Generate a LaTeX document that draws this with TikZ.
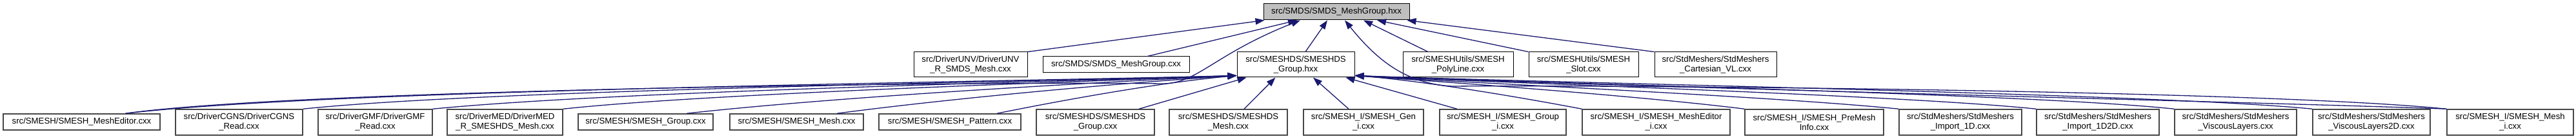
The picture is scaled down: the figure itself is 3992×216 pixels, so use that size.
\documentclass[tikz,border=0pt]{standalone}
\usepackage{fontspec}
\setmainfont{Liberation Sans}
\usetikzlibrary{arrows.meta}
\definecolor{edgeblue}{HTML}{191970}
\definecolor{topfill}{HTML}{BFBFBF}
\begin{document}
\begin{tikzpicture}[x=1pt,y=-1pt,
  box/.style={draw=black, line width=1pt, inner sep=0pt, align=center,
    font=\fontsize{13.2}{15}\selectfont, fill=white},
  lowbox/.style={box, draw=black!72, line width=1.4pt},
  dep/.style={draw=edgeblue, line width=1.3pt, -{Triangle[length=14pt,width=10pt]}},
]
\useasboundingbox (0,0) rectangle (3992,216);

% top
\node[box, fill=topfill, minimum width=226pt, minimum height=25pt] (T) at (2071,18.5) {src/SMDS/SMDS\_MeshGroup.hxx};

% row 2
\node[box, minimum width=176pt, minimum height=39pt] (UNV) at (1504,100.5) {src/DriverUNV/DriverUNV\\\_R\_SMDS\_Mesh.cxx};
\node[box, minimum width=227pt, minimum height=25pt] (MGc) at (1729.5,100.5) {src/SMDS/SMDS\_MeshGroup.cxx};
\node[box, minimum width=182pt, minimum height=39pt] (HDSG) at (2008,100.5) {src/SMESHDS/SMESHDS\\\_Group.hxx};
\node[box, minimum width=171pt, minimum height=39pt] (Poly) at (2259.5,100.5) {src/SMESHUtils/SMESH\\\_PolyLine.cxx};
\node[box, minimum width=170pt, minimum height=39pt] (Slot) at (2454,100.5) {src/SMESHUtils/SMESH\\\_Slot.cxx};
\node[box, minimum width=189pt, minimum height=39pt] (Cart) at (2658.5,100.5) {src/StdMeshers/StdMeshers\\\_Cartesian\_VL.cxx};

% row 3
\node[lowbox, minimum width=243pt, minimum height=25pt] (ME) at (126.5,189.5) {src/SMESH/SMESH\_MeshEditor.cxx};
\node[lowbox, minimum width=197pt, minimum height=40pt] (CGNS) at (370.5,190) {src/DriverCGNS/DriverCGNS\\\_Read.cxx};
\node[lowbox, minimum width=177pt, minimum height=40pt] (GMF) at (581.5,190) {src/DriverGMF/DriverGMF\\\_Read.cxx};
\node[lowbox, minimum width=179pt, minimum height=40pt] (MED) at (782.5,190) {src/DriverMED/DriverMED\\\_R\_SMESHDS\_Mesh.cxx};
\node[lowbox, minimum width=209pt, minimum height=25pt] (SG) at (1000.5,189.5) {src/SMESH/SMESH\_Group.cxx};
\node[lowbox, minimum width=207pt, minimum height=25pt] (SM) at (1234.5,189.5) {src/SMESH/SMESH\_Mesh.cxx};
\node[lowbox, minimum width=220pt, minimum height=25pt] (Pat) at (1472,189.5) {src/SMESH/SMESH\_Pattern.cxx};
\node[lowbox, minimum width=183pt, minimum height=40pt] (DSG) at (1697.5,190) {src/SMESHDS/SMESHDS\\\_Group.cxx};
\node[lowbox, minimum width=183pt, minimum height=40pt] (DSM) at (1903.5,190) {src/SMESHDS/SMESHDS\\\_Mesh.cxx};
\node[lowbox, minimum width=186pt, minimum height=40pt] (Gen) at (2113,190) {src/SMESH\_I/SMESH\_Gen\\\_i.cxx};
\node[lowbox, minimum width=196pt, minimum height=40pt] (Grp) at (2329,190) {src/SMESH\_I/SMESH\_Group\\\_i.cxx};
\node[lowbox, minimum width=229pt, minimum height=40pt] (MEi) at (2566.5,190) {src/SMESH\_I/SMESH\_MeshEditor\\\_i.cxx};
\node[lowbox, minimum width=215pt, minimum height=40pt] (Pre) at (2811.5,190) {src/SMESH\_I/SMESH\_PreMesh\\Info.cxx};
\node[lowbox, minimum width=190pt, minimum height=40pt] (I1) at (3038,190) {src/StdMeshers/StdMeshers\\\_Import\_1D.cxx};
\node[lowbox, minimum width=190pt, minimum height=40pt] (I12) at (3251,190) {src/StdMeshers/StdMeshers\\\_Import\_1D2D.cxx};
\node[lowbox, minimum width=189pt, minimum height=40pt] (VL) at (3464.5,190) {src/StdMeshers/StdMeshers\\\_ViscousLayers.cxx};
\node[lowbox, minimum width=182pt, minimum height=40pt] (VL2) at (3675,190) {src/StdMeshers/StdMeshers\\\_ViscousLayers2D.cxx};
\node[lowbox, minimum width=196pt, minimum height=40pt] (Mi) at (3890,190) {src/SMESH\_I/SMESH\_Mesh\\\_i.cxx};

% edges into top node
\draw[dep] (UNV.north east) -- ([xshift=2pt]T.south west);
\draw[dep] ([xshift=48.5pt]MGc.north) -- ([xshift=-61pt]T.south);
\draw[dep] ([xshift=15pt]HDSG.north) -- ([xshift=-14pt]T.south);
\draw[dep] ([xshift=-46.5pt]Poly.north) -- ([xshift=42pt]T.south);
\draw[dep] (Slot.north west) -- ([xshift=63pt]T.south);
\draw[dep] (Cart.north west) -- ([xshift=-4pt]T.south east);
\draw[dep] ([xshift=68pt]ME.north) .. controls (450,140) and (1500,126) .. (1800,130)
  .. controls (1855,131) and (1880,85) .. ([xshift=-56pt]T.south);
\draw[dep] (Mi.north west) .. controls (3500,140) and (2500,132) .. (2250,134)
  .. controls (2180,130) and (2135,95) .. ([xshift=13pt]T.south);

% edges into SMESHDS_Group.hxx from the left
\draw[dep] ([xshift=68pt]ME.north) .. controls (500,140) and (1500,128) .. ([yshift=3pt]HDSG.south west);
\draw[dep] (CGNS.north east) .. controls (750,140) and (1550,128) .. ([yshift=3pt]HDSG.south west);
\draw[dep] (GMF.north east) .. controls (950,142) and (1600,128) .. ([yshift=3pt]HDSG.south west);
\draw[dep] (MED.north east) .. controls (1100,145) and (1650,128) .. ([yshift=3pt]HDSG.south west);
\draw[dep] ([xshift=63.5pt]SG.north) .. controls (1300,150) and (1700,128) .. ([yshift=3pt]HDSG.south west);
\draw[dep] ([xshift=62.5pt]SM.north) .. controls (1480,152) and (1750,128) .. ([yshift=3pt]HDSG.south west);
\draw[dep] ([xshift=73pt]Pat.north) .. controls (1650,155) and (1800,128) .. ([yshift=3pt]HDSG.south west);
\draw[dep] ([xshift=67.5pt]DSG.north) -- ([xshift=15pt]HDSG.south west);
\draw[dep] ([xshift=24.5pt]DSM.north) -- ([xshift=60pt]HDSG.south west);
\draw[dep] ([xshift=-23pt]Gen.north) -- ([xshift=27pt]HDSG.south);
\draw[dep] ([xshift=-71pt]Grp.north) -- ([xshift=-14pt]HDSG.south east);

% edges into SMESHDS_Group.hxx from the right
\draw[dep] (MEi.north west) .. controls (2350,150) and (2200,125) .. ([yshift=3pt]HDSG.south east);
\draw[dep] (Pre.north west) .. controls (2550,150) and (2250,128) .. ([yshift=3pt]HDSG.south east);
\draw[dep] (I1.north west) .. controls (2750,150) and (2300,130) .. ([yshift=3pt]HDSG.south east);
\draw[dep] (I12.north west) .. controls (2950,148) and (2350,130) .. ([yshift=3pt]HDSG.south east);
\draw[dep] (VL.north west) .. controls (3150,146) and (2400,130) .. ([yshift=3pt]HDSG.south east);
\draw[dep] (VL2.north west) .. controls (3350,146) and (2450,130) .. ([yshift=3pt]HDSG.south east);
\draw[dep] (Mi.north west) .. controls (3550,160) and (2500,135) .. ([yshift=3pt]HDSG.south east);
\end{tikzpicture}
\end{document}
